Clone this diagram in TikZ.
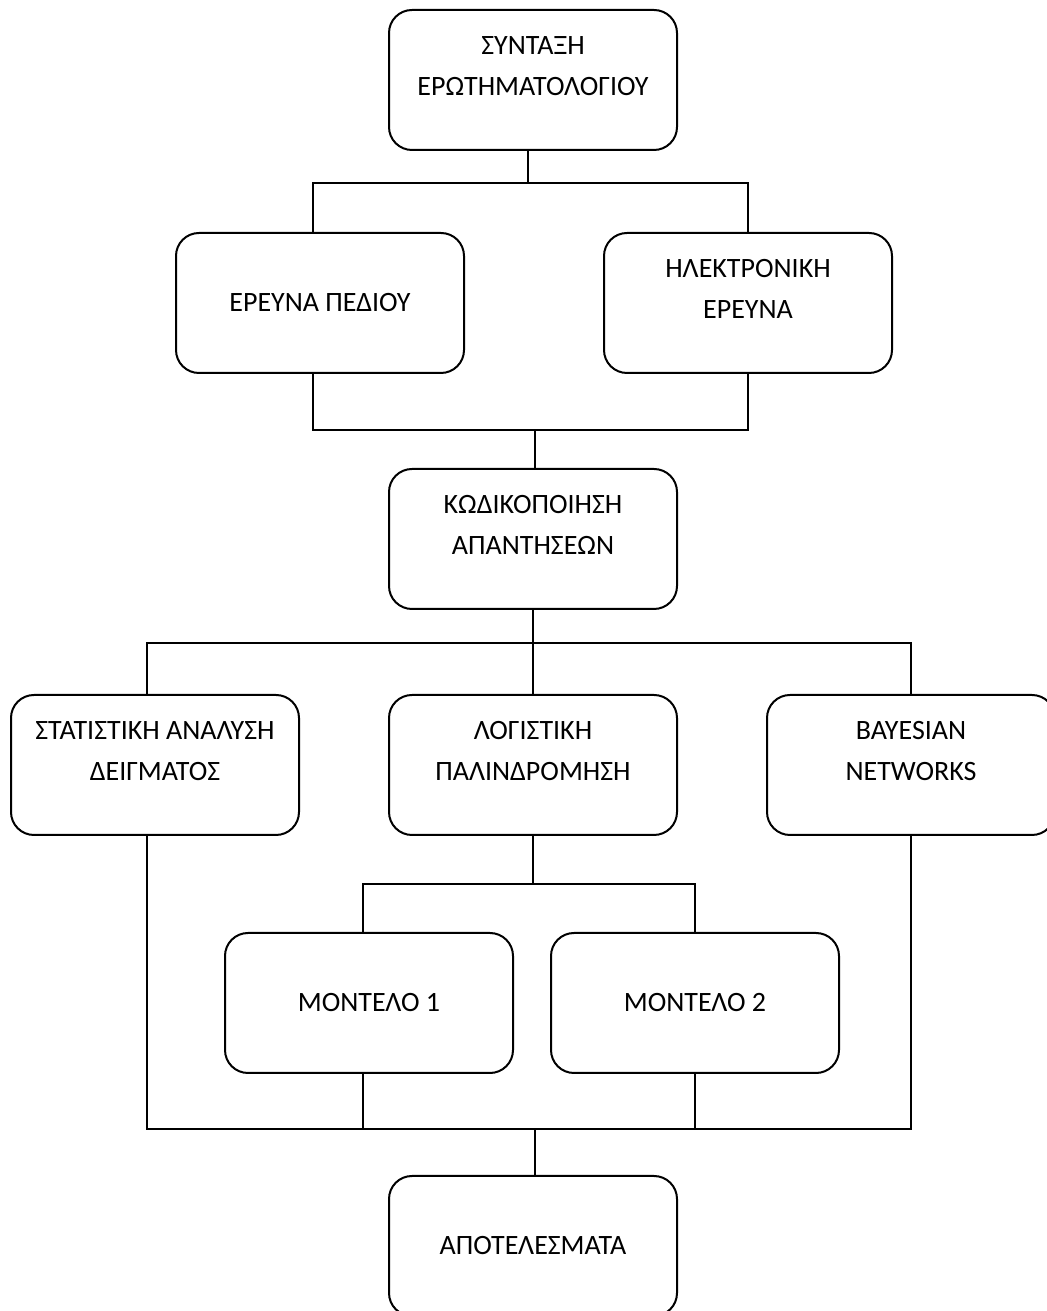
\documentclass[tikz,border=0pt]{standalone}
\usepackage{fontspec}
\setmainfont{Carlito}
\usetikzlibrary{positioning}

\newcommand{\twolines}[2]{\parbox[c][54pt][t]{140pt}{\centering\strut #1\\#2}}

\begin{document}
\begin{tikzpicture}[node distance=2cm,on grid,
    stage/.style={draw,line width=1pt,rounded corners=11.5pt,minimum width=144pt,
      minimum height=70pt,inner sep=0pt,font=\fontsize{14pt}{20.5pt}\selectfont},
    link/.style={line width=1pt}]
  \useasboundingbox[fill=white] (0,0) rectangle (523pt,655.5pt);
  \node[stage] (syntaxi) at (266.5pt,615.5pt) {\twolines{ΣΥΝΤΑΞΗ}{ΕΡΩΤΗΜΑΤΟΛΟΓΙΟΥ}};
  \node[stage] (pedio) [below left=111.5pt and 106.5pt of syntaxi] {ΕΡΕΥΝΑ ΠΕΔΙΟΥ};
  \node[stage] (ilektr) [below right=111.5pt and 107.5pt of syntaxi] {\twolines{ΗΛΕΚΤΡΟΝΙΚΗ}{ΕΡΕΥΝΑ}};
  \node[stage] (kodik) [below=229.5pt of syntaxi] {\twolines{ΚΩΔΙΚΟΠΟΙΗΣΗ}{ΑΠΑΝΤΗΣΕΩΝ}};
  \node[stage] (logist) [below=113pt of kodik] {\twolines{ΛΟΓΙΣΤΙΚΗ}{ΠΑΛΙΝΔΡΟΜΗΣΗ}};
  \node[stage] (statist) [left=189pt of logist] {\twolines{ΣΤΑΤΙΣΤΙΚΗ ΑΝΑΛΥΣΗ}{ΔΕΙΓΜΑΤΟΣ}};
  \node[stage] (bayes) [right=189pt of logist] {\twolines{BAYESIAN}{NETWORKS}};
  \node[stage] (model1) [below left=119pt and 82pt of logist] {ΜΟΝΤΕΛΟ 1};
  \node[stage] (model2) [below right=119pt and 81pt of logist] {ΜΟΝΤΕΛΟ 2};
  \node[stage] (apotel) [below=240.5pt of logist] {ΑΠΟΤΕΛΕΣΜΑΤΑ};

  \coordinate (bus1) at (0,564pt);
  \coordinate (bus2) at (0,440.5pt);
  \coordinate (bus3) at (0,334pt);
  \coordinate (bus4) at (0,213.5pt);
  \coordinate (bus5) at (0,91pt);

  \draw[link] ([xshift=-2.5pt]syntaxi.south) -- ([xshift=-2.5pt]syntaxi.south |- bus1);
  \draw[link] ([xshift=-3.5pt]pedio.north) |- (ilektr.north |- bus1) -- (ilektr.north);
  \draw[link] ([xshift=-3.5pt]pedio.south) |- (ilektr.south |- bus2) -- (ilektr.south);
  \draw[link] ([xshift=1pt]kodik.north) -- ([xshift=1pt]kodik.north |- bus2);
  \draw[link] (kodik.south) -- (kodik.south |- bus3);
  \draw[link] ([xshift=-4pt]statist.north) |- (bayes.north |- bus3) -- (bayes.north);
  \draw[link] (logist.north) -- (logist.north |- bus3);
  \draw[link] (logist.south) -- (logist.south |- bus4);
  \draw[link] ([xshift=-3pt]model1.north) |- (model2.north |- bus4) -- (model2.north);
  \draw[link] ([xshift=-4pt]statist.south) |- (bayes.south |- bus5) -- (bayes.south);
  \draw[link] ([xshift=-3pt]model1.south) -- ([xshift=-3pt]model1.south |- bus5);
  \draw[link] (model2.south) -- (model2.south |- bus5);
  \draw[link] ([xshift=1pt]apotel.north) -- ([xshift=1pt]apotel.north |- bus5);
\end{tikzpicture}
\end{document}
